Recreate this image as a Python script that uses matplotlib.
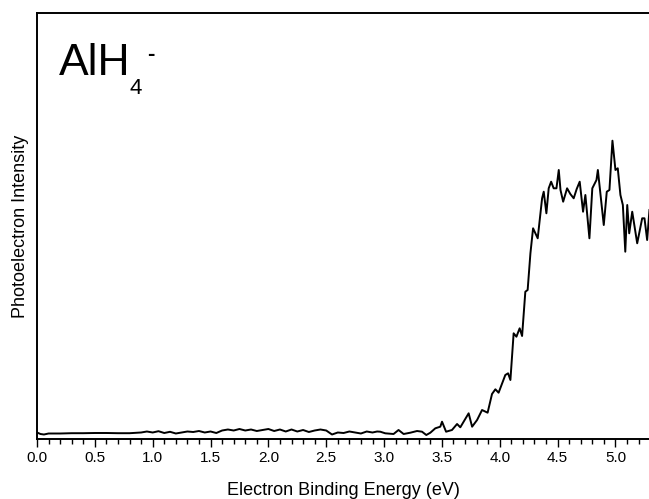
import numpy as np
import matplotlib.pyplot as plt
from matplotlib.ticker import MultipleLocator

plt.rcParams['font.family'] = ['Liberation Sans', 'DejaVu Sans']

# photoelectron spectrum of AlH4- (arb. units)
ebe = [0.00, 0.03, 0.06, 0.10, 0.20, 0.30, 0.40, 0.50, 0.60, 0.70, 0.80,
       0.90, 0.95, 1.00, 1.05, 1.10, 1.15, 1.20, 1.25, 1.30, 1.35, 1.40,
       1.45, 1.50, 1.55, 1.60, 1.65, 1.70, 1.75, 1.80, 1.85, 1.90, 1.95,
       2.00, 2.05, 2.10, 2.15, 2.20, 2.25, 2.30, 2.35, 2.40, 2.45, 2.50,
       2.55, 2.60, 2.65, 2.70, 2.75, 2.80, 2.85, 2.90, 2.94,
       2.967, 3.010, 3.082, 3.125, 3.169, 3.227, 3.285, 3.328, 3.365, 3.400,
       3.443, 3.486, 3.501, 3.536, 3.587, 3.631, 3.659, 3.731, 3.761, 3.804,
       3.847, 3.895, 3.933, 3.962, 3.990, 4.048, 4.072, 4.092, 4.120, 4.144,
       4.172, 4.193, 4.221, 4.241, 4.265, 4.288, 4.328, 4.366, 4.380, 4.403,
       4.423, 4.444, 4.466, 4.490, 4.510, 4.525, 4.548, 4.582, 4.610, 4.639,
       4.665, 4.691, 4.720, 4.740, 4.775, 4.800, 4.836, 4.848, 4.899, 4.925,
       4.948, 4.974, 5.000, 5.020, 5.043, 5.064, 5.085, 5.102, 5.119, 5.145,
       5.188, 5.231, 5.251, 5.274, 5.294]
intensity = [6.5, 5.0, 4.5, 5.5, 5.5, 5.8, 5.8, 6.0, 6.0, 5.8, 5.8,
             6.5, 7.5, 6.5, 7.8, 6.0, 7.2, 5.5, 6.5, 7.5, 7.0, 8.0,
             6.5, 7.5, 6.0, 8.5, 9.5, 8.5, 10.0, 8.5, 9.5, 8.0, 9.0,
             10.0, 8.0, 9.5, 7.5, 9.5, 7.5, 9.0, 7.0, 8.5, 9.5, 8.5,
             4.5, 6.5, 6.0, 7.5, 6.5, 5.5, 7.5, 6.5, 7.5,
             7.3, 5.7, 5.0, 9.0, 5.0, 6.3, 8.0, 7.3, 4.0, 6.3,
             10.7, 12.3, 17.3, 7.3, 9.0, 15.0, 11.7, 25.7, 12.3, 19.0,
             29.0, 26.3, 45.0, 49.7, 46.3, 64.0, 65.7, 59.0, 105.7, 102.3,
             110.7, 103.0, 147.3, 149.0, 185.7, 210.7, 200.7, 240.7, 247.3, 225.7,
             250.7, 257.3, 250.7, 250.7, 269.0, 249.0, 237.3, 250.7, 245.0, 240.7,
             250.0, 257.3, 227.3, 244.0, 200.7, 250.7, 259.0, 269.0, 214.0, 247.3,
             249.0, 298.3, 269.0, 270.7, 244.0, 234.0, 187.3, 234.0, 205.7, 227.3,
             195.7, 220.7, 220.7, 199.0, 229.0]

fig = plt.figure(figsize=(6.49, 4.99), dpi=100)
ax = fig.add_axes([37 / 649, 1 - 439 / 499, 1 - 37 / 649, (439 - 13) / 499])

ax.plot(ebe, intensity, color='black', lw=1.4)

ax.set_xlim(0, 5.29)
ax.set_ylim(0, 426)
ax.xaxis.set_major_locator(MultipleLocator(0.5))
ax.xaxis.set_minor_locator(MultipleLocator(0.1))
ax.xaxis.set_major_formatter(plt.FormatStrFormatter('%.1f'))
ax.set_yticks([])
ax.tick_params(axis='x', which='major', direction='out', length=6, width=1,
               labelsize=11, pad=3)
ax.tick_params(axis='x', which='minor', direction='out', length=3.5, width=1)
ax.spines['right'].set_visible(False)
for s in ['left', 'top', 'bottom']:
    ax.spines[s].set_linewidth(1.4)

ax.set_xlabel('Electron Binding Energy (eV)', fontsize=13, labelpad=12)
ax.set_ylabel('Photoelectron Intensity', fontsize=13, labelpad=6)

# species label: AlH with subscript 4 and superscript minus
fig.text(59 / 649, 1 - 75 / 499, 'AlH', fontsize=32, ha='left', va='baseline')
fig.text(129.5 / 649, 1 - 94 / 499, '4', fontsize=16, ha='left', va='baseline')
fig.text(147.5 / 649, 1 - 59.5 / 499, '-', fontsize=16, ha='left',
         va='baseline', fontweight='bold')

fig.savefig('out.png', dpi=100)
